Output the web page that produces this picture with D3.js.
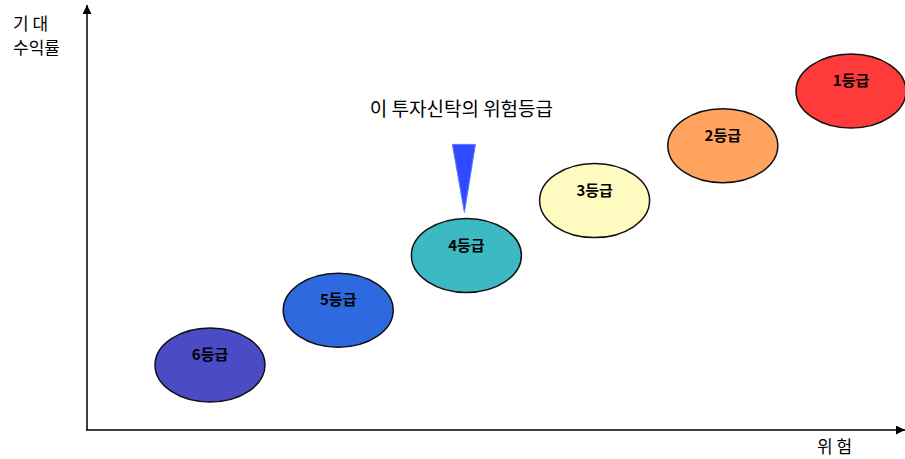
<!DOCTYPE html>
<html><head><meta charset="utf-8">
<script src="https://cdn.jsdelivr.net/npm/d3@7/dist/d3.min.js"></script>
<style>body{margin:0;background:#fff}svg{display:block}text{font-family:"Noto Sans CJK KR","Noto Sans",sans-serif}</style>
</head><body><svg id="c" width="905" height="459"></svg>
<script>
const grades = ["6등급","5등급","4등급","3등급","2등급","1등급"];
const riskLevel = [1,2,3,4,5,6];
const returnLevel = [1,2,3,4,5,6];
const colors = ["#4B4BC6","#2F69E0","#3DB9C4","#FFFAC0","#FFA35E","#FF3A3A"];
const currentGrade = "4등급";
const annotation = "이 투자신탁의 위험등급";
const yLabel = ["기 대","수익률"];
const xLabel = "위 험";

const svg = d3.select("#c");
const x = d3.scaleLinear().domain([1,6]).range([210,851]);
const y = d3.scaleLinear().domain([1,6]).range([365,91]);

svg.append("defs").append("marker").attr("id","arr").attr("viewBox","0 0 10 10")
  .attr("refX",10).attr("refY",5).attr("markerWidth",9).attr("markerHeight",9)
  .attr("markerUnits","userSpaceOnUse").attr("orient","auto")
  .append("path").attr("d","M0,0L10,5L0,10Z").attr("fill","#000");

svg.append("line").attr("x1",87).attr("y1",430).attr("x2",87).attr("y2",5)
  .attr("stroke","#000").attr("stroke-width",1.5).attr("marker-end","url(#arr)");
svg.append("line").attr("x1",86).attr("y1",430).attr("x2",905).attr("y2",430)
  .attr("stroke","#000").attr("stroke-width",1.5).attr("marker-end","url(#arr)");

svg.selectAll("text.yl").data(yLabel).join("text").attr("class","yl")
  .attr("x",13).attr("y",(d,i)=>30+i*24).attr("font-size",17).attr("fill","#000").text(d=>d);
svg.append("text").attr("x",817).attr("y",453).attr("font-size",17).attr("fill","#000").text(xLabel);

const data = grades.map((g,i)=>({g,r:riskLevel[i],ret:returnLevel[i],c:colors[i]}));
const gs = svg.selectAll("g.e").data(data).join("g").attr("class","e")
  .attr("transform",d=>`translate(${x(d.r)},${y(d.ret)})`);
gs.append("ellipse").attr("rx",55).attr("ry",37).attr("fill",d=>d.c)
  .attr("stroke","#111").attr("stroke-width",1.5);
gs.append("text").attr("y",-10).attr("dy","0.35em").attr("text-anchor","middle")
  .attr("font-size",15).attr("font-weight","bold").attr("fill","#000").text(d=>d.g);

const cur = data.find(d=>d.g===currentGrade);
const cx = x(cur.r)-2, cy = y(cur.ret);
svg.append("path").attr("d",`M${cx-12},${cy-111}L${cx+11},${cy-111}L${cx},${cy-43}Z`)
  .attr("fill","#2F4BFF").attr("stroke","#5A78FF").attr("stroke-width",1);
svg.append("text").attr("x",cx-3).attr("y",cy-139).attr("text-anchor","middle")
  .attr("font-size",19).attr("fill","#000").text(annotation);
</script></body></html>
